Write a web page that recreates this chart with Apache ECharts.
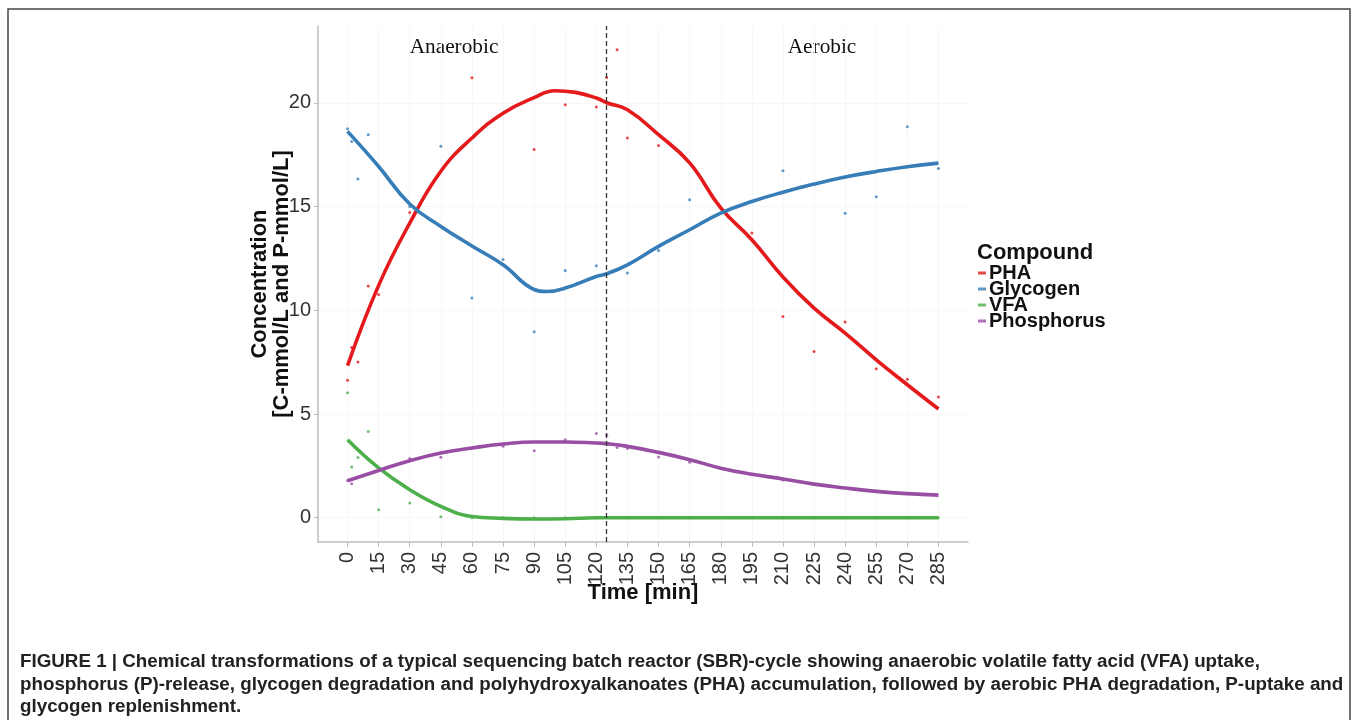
<!DOCTYPE html>
<html>
<head>
<meta charset="utf-8">
<script src="https://cdn.jsdelivr.net/npm/echarts@6/dist/echarts.min.js"></script>
<style>
html,body{margin:0;padding:0;background:#fff;}
#chart{width:1358px;height:720px;}
</style>
</head>
<body>
<div id="chart"></div>
<script>
// ---- data ----
const compounds = ['PHA', 'Glycogen', 'VFA', 'Phosphorus'];
const xTicks = [0,15,30,45,60,75,90,105,120,135,150,165,180,195,210,225,240,255,270,285];
const yTicks = [0,5,10,15,20];
const phaseBoundary = 125;

// measured points
const phaTimes = [0,2,5,10,15,30,60,90,105,120,125,130,135,150,195,210,225,240,255,270,285];
const phaValues = [6.62,8.21,7.5,11.17,10.76,14.71,21.2,17.75,19.9,19.8,21.22,22.55,18.3,17.94,13.72,9.7,8.01,9.43,7.18,6.68,5.82];

const glyTimes = [0,2,5,10,15,30,45,60,75,90,105,120,135,150,165,210,240,255,270,285];
const glyValues = [18.75,18.13,16.32,18.46,16.93,15.0,17.91,10.59,12.45,8.96,11.92,12.14,11.8,12.88,15.33,16.72,14.67,15.47,18.84,16.83];

const vfaTimes = [0,2,5,10,15,30,45,60,75,90,105,120,135,150,165,195,210,225,240,255,270,285];
const vfaValues = [6.02,2.44,2.9,4.16,0.39,0.71,0.05,0,0,0,0,0,0,0,0,0,0,0,0,0,0,0];

const phoTimes = [0,2,30,45,60,75,90,105,120,125,130,135,150,165,195,210];
const phoValues = [1.8,1.64,2.85,2.92,3.36,3.44,3.23,3.76,4.06,3.97,3.39,3.34,2.93,2.67,2.1,1.82];

// smoothed trend curves
const phaCurveTimes = [0,15,30,45,60,75,90,100,110,120,125,135,150,165,180,195,210,225,240,255,270,285];
const phaCurveValues = [7.33,11.2,14.2,16.7,18.3,19.5,20.25,20.58,20.5,20.23,20.0,19.66,18.46,17.1,14.93,13.4,11.6,10.1,8.9,7.61,6.41,5.24];

const glyCurveTimes = [0,15,30,45,60,75,90,96,105,120,125,135,150,165,180,195,210,225,240,255,270,285];
const glyCurveValues = [18.62,16.93,15.12,14.04,13.1,12.19,11.0,10.9,11.07,11.63,11.76,12.19,13.08,13.88,14.68,15.24,15.69,16.08,16.42,16.69,16.92,17.09];

const vfaCurveTimes = [0,15,30,45,60,75,90,105,120,135,150,165,180,195,210,225,240,255,270,285];
const vfaCurveValues = [3.76,2.4,1.35,0.55,0.06,-0.03,-0.06,-0.05,0,0,0,0,0,0,0,0,0,0,0,0];

const phoCurveTimes = [0,15,30,45,60,75,90,105,120,125,135,150,165,180,195,210,225,240,255,270,285];
const phoCurveValues = [1.78,2.28,2.75,3.12,3.36,3.55,3.65,3.65,3.6,3.57,3.44,3.15,2.8,2.39,2.1,1.87,1.62,1.43,1.27,1.16,1.09];

const colors = ['#E41A1C', '#377EB8', '#4DAF4A', '#984EA3'];
// ---------------------------------------------------

function pairs(t, v) { return t.map((x, i) => [x, v[i]]); }

const pointSets = [pairs(phaTimes, phaValues), pairs(glyTimes, glyValues), pairs(vfaTimes, vfaValues), pairs(phoTimes, phoValues)];
const curveSets = [pairs(phaCurveTimes, phaCurveValues), pairs(glyCurveTimes, glyCurveValues), pairs(vfaCurveTimes, vfaCurveValues), pairs(phoCurveTimes, phoCurveValues)];

const series = [];
compounds.forEach((name, i) => {
  series.push({
    name: name, type: 'scatter', data: pointSets[i], symbolSize: 3,
    itemStyle: { color: colors[i] }, silent: true, z: 2
  });
});
compounds.forEach((name, i) => {
  const s = {
    name: name, type: 'line', data: curveSets[i], smooth: 0.45, showSymbol: false,
    lineStyle: { color: colors[i], width: 3.6 }, itemStyle: { color: colors[i] }, silent: true, z: 3
  };
  if (i === 0) {
    s.markLine = {
      silent: true, symbol: 'none', label: { show: false },
      lineStyle: { color: '#333', type: [5, 3], width: 1.3 },
      data: [{ xAxis: phaseBoundary }]
    };
  }
  series.push(s);
});

const capFont = 'bold 18.8px "Liberation Sans"';

const chart = echarts.init(document.getElementById('chart'));
chart.setOption({
  backgroundColor: '#fff',
  animation: false,
  color: colors,
  grid: { left: 318, top: 26, width: 650, height: 516, containLabel: false },
  xAxis: {
    type: 'value', min: -14.25, max: 299.25,
    axisLine: { show: true, onZero: false, lineStyle: { color: '#bdbdbd', width: 1.5 } },
    axisTick: { show: true, length: 5, lineStyle: { color: '#bdbdbd', width: 1 }, customValues: xTicks },
    axisLabel: { customValues: xTicks, rotate: 90, margin: 10, fontSize: 20, color: '#333', fontFamily: 'Liberation Sans' },
    splitLine: { show: true, lineStyle: { color: '#f7f7f7', width: 1 } }
  },
  yAxis: {
    type: 'value', min: -1.17, max: 23.7,
    axisLine: { show: true, onZero: false, lineStyle: { color: '#bdbdbd', width: 1.5 } },
    axisTick: { show: true, length: 4, lineStyle: { color: '#bdbdbd', width: 1 }, customValues: yTicks },
    axisLabel: { customValues: yTicks, margin: 7, fontSize: 20, color: '#333', fontFamily: 'Liberation Sans' },
    splitLine: { show: true, lineStyle: { color: '#f7f7f7', width: 1 } }
  },
  legend: {
    orient: 'vertical', left: 978, top: 263, itemGap: -4, padding: 0,
    itemWidth: 8, itemHeight: 3, icon: 'rect', selectedMode: false,
    data: compounds,
    textStyle: { fontSize: 20, fontWeight: 'bold', color: '#111', fontFamily: 'Liberation Sans', padding: [0,0,0,-2] }
  },
  graphic: [
    { type: 'rect', shape: { x: 8, y: 9, width: 1342, height: 740 }, style: { fill: 'none', stroke: '#444', lineWidth: 1.5 }, silent: true, z: -10 },
    { type: 'text', x: 454, y: 47, style: { text: 'Anaerobic', font: '21.3px "Liberation Serif"', fill: '#111', textAlign: 'center', textVerticalAlign: 'middle' } },
    { type: 'text', x: 822, y: 47, style: { text: 'Aerobic', font: '21.3px "Liberation Serif"', fill: '#111', textAlign: 'center', textVerticalAlign: 'middle' } },
    { type: 'text', x: 643, y: 593, style: { text: 'Time [min]', font: 'bold 22px "Liberation Sans"', fill: '#111', textAlign: 'center', textVerticalAlign: 'middle' } },
    { type: 'text', x: 271, y: 284, rotation: Math.PI / 2, style: { text: 'Concentration\n[C-mmol/L and P-mmol/L]', font: 'bold 22px "Liberation Sans"', lineHeight: 22, fill: '#111', textAlign: 'center', textVerticalAlign: 'middle' } },
    { type: 'text', x: 977, y: 253, style: { text: 'Compound', font: 'bold 22px "Liberation Sans"', fill: '#111', textAlign: 'left', textVerticalAlign: 'middle' } },
    { type: 'text', x: 20, y: 662, style: { text: 'FIGURE 1 | Chemical transformations of a typical sequencing batch reactor (SBR)-cycle showing anaerobic volatile fatty acid (VFA) uptake,', font: capFont, fill: '#222', textAlign: 'left', textVerticalAlign: 'middle' } },
    { type: 'text', x: 20, y: 685, style: { text: 'phosphorus (P)-release, glycogen degradation and polyhydroxyalkanoates (PHA) accumulation, followed by aerobic PHA degradation, P-uptake and', font: capFont, fill: '#222', textAlign: 'left', textVerticalAlign: 'middle' } },
    { type: 'text', x: 20, y: 707, style: { text: 'glycogen replenishment.', font: capFont, fill: '#222', textAlign: 'left', textVerticalAlign: 'middle' } }
  ],
  series: series
});
</script>
</body>
</html>
